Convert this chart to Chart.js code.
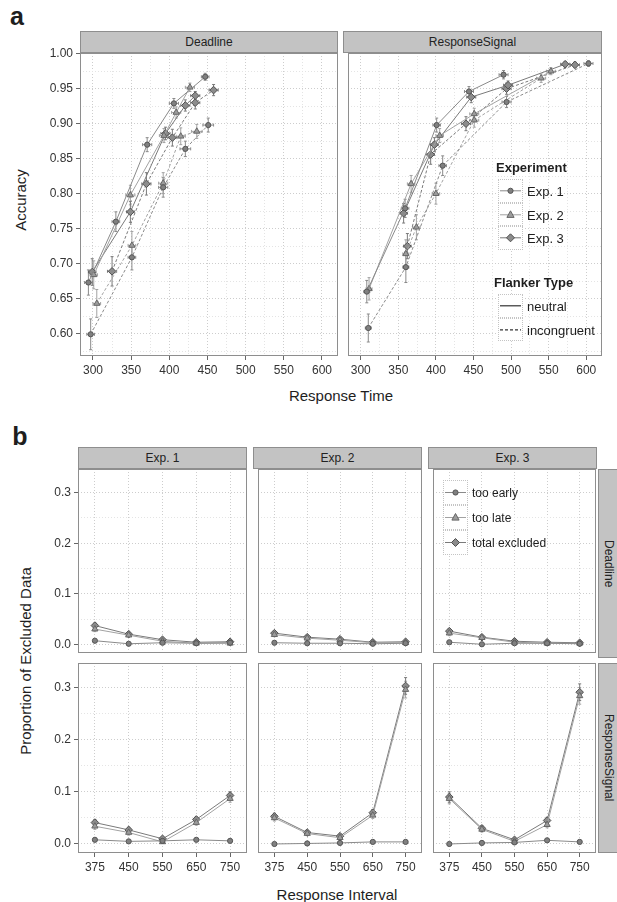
<!DOCTYPE html>
<html>
<head>
<meta charset="utf-8">
<title>Accuracy and excluded data</title>
<script src="https://cdn.jsdelivr.net/npm/chart.js@4.4.1/dist/chart.umd.min.js"></script>
<style>
  body { margin: 0; width: 617px; height: 902px; position: relative; overflow: hidden; background: #fff;
         font-family: "Liberation Sans", Arial, Helvetica, sans-serif; color: #1e1e1e; }
  canvas { position: absolute; }
  .c { position: absolute; transform: translate(-50%, -50%); white-space: nowrap; }
  .l { position: absolute; transform: translateY(-50%); white-space: nowrap; }
  .strip { position: absolute; box-sizing: border-box; background: #c3c3c3; border: 1px solid #8e8e8e;
           font-size: 12px; display: flex; align-items: center; justify-content: center; color: #222; }
  .vstrip { writing-mode: vertical-rl; }
  .panel { font-weight: bold; font-size: 25px; }
  .axt { font-size: 15px; }
  .leg { font-size: 13px; }
  .legb { font-size: 12px; }
  .legt { font-size: 13px; font-weight: bold; }
  .key { position: absolute; box-sizing: border-box; border: 1px dotted #c4c4c4; background: #fff; }
</style>
</head>
<body>
<div class="c panel" style="left:17px;top:16px">a</div>
<div class="strip" style="left:80px;top:31px;width:258px;height:22px">Deadline</div>
<div class="strip" style="left:343px;top:31px;width:259px;height:22px">ResponseSignal</div>
<div class="c axt" style="left:20px;top:200px;transform:translate(-50%,-50%) rotate(-90deg)">Accuracy</div>
<div class="c axt" style="left:341px;top:395px">Response Time</div>

<div class="c panel" style="left:20px;top:436px">b</div>
<div class="strip" style="left:78px;top:447px;width:169px;height:22px">Exp. 1</div>
<div class="strip" style="left:253px;top:447px;width:169px;height:22px">Exp. 2</div>
<div class="strip" style="left:428px;top:447px;width:169px;height:22px">Exp. 3</div>
<div class="strip vstrip" style="left:598px;top:469px;width:22px;height:189px">Deadline</div>
<div class="strip vstrip" style="left:598px;top:663px;width:22px;height:190px">ResponseSignal</div>
<div class="c axt" style="left:25px;top:661px;transform:translate(-50%,-50%) rotate(-90deg)">Proportion of Excluded Data</div>
<div class="c axt" style="left:337px;top:894px">Response Interval</div>

<script>
// ---- panel a: accuracy vs response time (rows = Exp. 1, 2, 3) ----
const expNames = ['Exp. 1', 'Exp. 2', 'Exp. 3'];
const flankerNames = ['neutral', 'incongruent'];

const dlNeuRT  = [[294, 330, 371, 406, 447], [301, 349, 393, 409, 427], [299, 349, 395, 421, 434]];
const dlNeuAcc = [[0.673, 0.760, 0.870, 0.929, 0.967], [0.684, 0.798, 0.883, 0.916, 0.952], [0.688, 0.774, 0.886, 0.926, 0.940]];
const dlIncRT  = [[297, 351, 392, 421, 451], [305, 351, 392, 415, 436], [325, 370, 404, 434, 458]];
const dlIncAcc = [[0.599, 0.709, 0.809, 0.864, 0.898], [0.643, 0.726, 0.815, 0.882, 0.889], [0.689, 0.814, 0.880, 0.930, 0.948]];

const rsNeuRT  = [[308, 359, 401, 444, 490], [311, 367, 405, 451, 553], [357, 398, 447, 496, 572]];
const rsNeuAcc = [[0.660, 0.779, 0.898, 0.946, 0.970], [0.664, 0.814, 0.883, 0.914, 0.975], [0.772, 0.870, 0.938, 0.955, 0.985]];
const rsIncRT  = [[310, 360, 409, 494, 603], [360, 374, 400, 451, 540], [362, 393, 440, 494, 585]];
const rsIncAcc = [[0.608, 0.695, 0.840, 0.931, 0.986], [0.714, 0.752, 0.800, 0.905, 0.965], [0.725, 0.856, 0.900, 0.950, 0.984]];

// error half-widths: neutral rows first, then incongruent rows
const dlAccErr = [[0.018, 0.014, 0.010, 0.007, 0.005], [0.020, 0.014, 0.010, 0.008, 0.006], [0.019, 0.015, 0.009, 0.008, 0.006],
                  [0.022, 0.018, 0.014, 0.011, 0.010], [0.020, 0.020, 0.015, 0.012, 0.010], [0.021, 0.016, 0.012, 0.009, 0.008]];
const dlRtErr  = [[5, 5, 6, 6, 5], [5, 6, 6, 6, 6], [5, 5, 6, 6, 6], [5, 5, 6, 7, 7], [5, 5, 6, 6, 7], [6, 6, 6, 6, 6]];
const rsAccErr = [[0.016, 0.013, 0.010, 0.007, 0.006], [0.016, 0.012, 0.010, 0.008, 0.005], [0.014, 0.010, 0.008, 0.006, 0.004],
                  [0.020, 0.022, 0.014, 0.008, 0.004], [0.020, 0.018, 0.015, 0.010, 0.006], [0.018, 0.014, 0.010, 0.008, 0.004]];
const rsRtErr  = [[4, 5, 5, 6, 6], [4, 5, 5, 6, 6], [5, 5, 6, 6, 6], [4, 4, 5, 6, 6], [4, 5, 5, 6, 6], [5, 5, 6, 6, 6]];

const rtTicks  = [300, 350, 400, 450, 500, 550, 600];
const accTicks = [0.60, 0.65, 0.70, 0.75, 0.80, 0.85, 0.90, 0.95, 1.00];

// ---- panel b: proportion of excluded data (rows = Exp. 1, 2, 3) ----
const exclNames = ['too early', 'too late', 'total excluded'];
const intervals = ['375', '450', '550', '650', '750'];

const dlEarly = [[0.007, 0.001, 0.003, 0.002, 0.003], [0.003, 0.002, 0.002, 0.001, 0.002], [0.004, 0.000, 0.002, 0.002, 0.001]];
const dlLate  = [[0.030, 0.018, 0.006, 0.002, 0.002], [0.019, 0.012, 0.008, 0.003, 0.003], [0.022, 0.013, 0.004, 0.002, 0.002]];
const dlTotal = [[0.037, 0.020, 0.009, 0.004, 0.005], [0.022, 0.014, 0.010, 0.004, 0.005], [0.026, 0.014, 0.006, 0.004, 0.003]];
const rsEarly = [[0.008, 0.005, 0.006, 0.008, 0.006], [0.000, 0.001, 0.002, 0.004, 0.004], [0.000, 0.002, 0.003, 0.007, 0.004]];
const rsLate  = [[0.034, 0.022, 0.004, 0.041, 0.087], [0.050, 0.020, 0.012, 0.055, 0.296], [0.087, 0.028, 0.005, 0.037, 0.284]];
const rsTotal = [[0.041, 0.027, 0.010, 0.047, 0.093], [0.053, 0.022, 0.015, 0.060, 0.303], [0.090, 0.030, 0.008, 0.045, 0.291]];

const dlPropErr = [[0.005, 0.003, 0.002, 0.002, 0.002], [0.004, 0.003, 0.002, 0.002, 0.002], [0.005, 0.003, 0.002, 0.002, 0.002]];
const rsPropErr = [[0.006, 0.005, 0.003, 0.005, 0.007], [0.006, 0.004, 0.003, 0.006, 0.016], [0.010, 0.005, 0.003, 0.006, 0.016]];
const earlyErr  = [0.002, 0.002, 0.002, 0.002, 0.002];

const propTicks = [0, 0.1, 0.2, 0.3];

// ---- styling ----
const lineCol = ['#8a8a8a', '#a2a2a2', '#7a7a7a'];
const ptFill  = ['#808080', '#9c9c9c', '#8c8c8c'];
const ptEdge  = ['#555', '#666', '#505050'];
const shapes  = ['circle', 'triangle', 'rectRot'];
const radii   = [2.6, 3.6, 3.8];

Chart.defaults.font.family = '"Liberation Sans", Arial, sans-serif';
Chart.defaults.font.size = 12;
Chart.defaults.color = '#333';

const facetPlugin = {
  id: 'facetPlugin',
  beforeDatasetsDraw(chart) {
    const { ctx, scales: { x, y } } = chart;
    ctx.save();
    ctx.lineWidth = 1;
    ctx.setLineDash([]);
    chart.data.datasets.forEach((ds, i) => {
      const pts = chart.getDatasetMeta(i).data;
      ctx.strokeStyle = ds.errColor;
      pts.forEach((p, j) => {
        const d = ds.data[j];
        const yv = typeof d === 'object' ? d.y : d;
        ctx.beginPath();
        if (ds.yErr) {
          const y0 = y.getPixelForValue(yv - ds.yErr[j]);
          const y1 = y.getPixelForValue(yv + ds.yErr[j]);
          ctx.moveTo(p.x, y0); ctx.lineTo(p.x, y1);
          ctx.moveTo(p.x - 1.5, y0); ctx.lineTo(p.x + 1.5, y0);
          ctx.moveTo(p.x - 1.5, y1); ctx.lineTo(p.x + 1.5, y1);
        }
        if (ds.xErr) {
          const x0 = x.getPixelForValue(d.x - ds.xErr[j]);
          const x1 = x.getPixelForValue(d.x + ds.xErr[j]);
          ctx.moveTo(x0, p.y); ctx.lineTo(x1, p.y);
          ctx.moveTo(x0, p.y - 1.5); ctx.lineTo(x0, p.y + 1.5);
          ctx.moveTo(x1, p.y - 1.5); ctx.lineTo(x1, p.y + 1.5);
        }
        ctx.stroke();
      });
    });
    ctx.restore();
  },
  afterDraw(chart) {
    const { ctx, chartArea: a } = chart;
    ctx.save();
    ctx.strokeStyle = '#8e8e8e';
    ctx.lineWidth = 1;
    ctx.setLineDash([]);
    ctx.strokeRect(a.left + 0.5, a.top + 0.5, a.right - a.left - 1, a.bottom - a.top - 1);
    ctx.restore();
  }
};

// majors keep labels, minors sit halfway between them
function tickList(major, min, max) {
  const step = major[1] - major[0];
  const out = major.map(v => ({ value: v, lab: true }));
  for (let i = -1; i < major.length; i++) {
    const v = major[0] + (i + 0.5) * step;
    if (v > min && v < max) out.push({ value: v, lab: false });
  }
  return out.sort((p, q) => p.value - q.value);
}

function linAxis(major, min, max, digits, show, size) {
  return {
    type: 'linear', min, max,
    afterBuildTicks: s => { s.ticks = tickList(major, min, max); },
    afterFit: s => {
      if (s.isHorizontal()) { s.height = size; s.paddingLeft = 0; s.paddingRight = 0; }
      else { s.width = size; s.paddingTop = 0; s.paddingBottom = 0; }
    },
    ticks: {
      display: show, autoSkip: false, maxRotation: 0, padding: 3, color: '#333',
      callback: (v, i, ts) => ts[i].lab ? (digits === 0 ? String(v) : v.toFixed(digits)) : ''
    },
    grid: {
      drawTicks: show, tickLength: 4,
      color: c => c.tick && c.tick.lab ? '#cdcdcd' : '#e4e4e4',
      tickColor: c => c.tick && c.tick.lab ? '#666' : 'rgba(0,0,0,0)'
    },
    border: { display: false, dash: [1, 2] }
  };
}

function catAxis(show, size) {
  return {
    type: 'category', offset: true,
    afterFit: s => { s.height = size; s.paddingLeft = 0; s.paddingRight = 0; },
    ticks: { display: show, autoSkip: false, maxRotation: 0, padding: 3, color: '#333' },
    grid: { offset: false, drawTicks: show, tickLength: 4, color: '#cdcdcd', tickColor: '#666' },
    border: { display: false, dash: [1, 2] }
  };
}

function facet(rect, m, data, xScale, yScale) {
  const cv = document.createElement('canvas');
  const w = rect[2] - rect[0] + m.l + m.r;
  const h = rect[3] - rect[1] + m.t + m.b;
  cv.width = w; cv.height = h;
  cv.style.width = w + 'px'; cv.style.height = h + 'px';
  cv.style.left = (rect[0] - m.l) + 'px';
  cv.style.top = (rect[1] - m.t) + 'px';
  document.body.appendChild(cv);
  return new Chart(cv.getContext('2d'), {
    type: 'line',
    data,
    options: {
      responsive: false, animation: false, devicePixelRatio: 1,
      layout: { padding: { top: m.t, right: m.r, left: 0, bottom: 0 } },
      plugins: { legend: { display: false }, tooltip: { enabled: false } },
      scales: { x: xScale, y: yScale }
    },
    plugins: [facetPlugin]
  });
}

// ---- panel a facets ----
function accSets(neuRT, neuAcc, incRT, incAcc, accErr, rtErr) {
  const sets = [];
  [[neuRT, neuAcc, []], [incRT, incAcc, [3, 2]]].forEach(([rt, acc, dash], f) => {
    rt.forEach((row, e) => {
      sets.push({
        label: expNames[e] + ' ' + flankerNames[f],
        data: row.map((x, i) => ({ x, y: acc[e][i] })),
        borderColor: lineCol[e], errColor: lineCol[e], borderWidth: 1, borderDash: dash,
        pointStyle: shapes[e], pointRadius: radii[e], pointBorderWidth: 1,
        pointBackgroundColor: ptFill[e], pointBorderColor: ptEdge[e],
        yErr: accErr[f * 3 + e], xErr: rtErr[f * 3 + e]
      });
    });
  });
  return { datasets: sets };
}

const rtMin = 283, rtMax = 621, accMin = 0.568, accMax = 1.001;
facet([80, 53, 338, 356], { l: 52, t: 10, r: 12, b: 30 },
  accSets(dlNeuRT, dlNeuAcc, dlIncRT, dlIncAcc, dlAccErr, dlRtErr),
  linAxis(rtTicks, rtMin, rtMax, 0, true, 30),
  linAxis(accTicks, accMin, accMax, 2, true, 52));
facet([343, 53, 602, 356], { l: 0, t: 10, r: 12, b: 30 },
  accSets(rsNeuRT, rsNeuAcc, rsIncRT, rsIncAcc, rsAccErr, rsRtErr),
  linAxis(rtTicks, rtMin, rtMax, 0, true, 30),
  linAxis(accTicks, accMin, accMax, 2, false, 0));

// ---- panel b facets ----
function propSets(e, early, late, total, err) {
  return {
    labels: intervals,
    datasets: [early[e], late[e], total[e]].map((vals, k) => ({
      label: exclNames[k],
      data: vals,
      borderColor: lineCol[k], errColor: lineCol[k], borderWidth: 1,
      pointStyle: shapes[k], pointRadius: radii[k], pointBorderWidth: 1,
      pointBackgroundColor: ptFill[k], pointBorderColor: ptEdge[k],
      yErr: k === 0 ? earlyErr : err[e]
    }))
  };
}

const colX = [[78, 247], [253, 422], [428, 596]];
const rowY = [[469, 658], [663, 853]];
const propMin = -0.0173, propMax = 0.347;
colX.forEach(([x0, x1], e) => {
  rowY.forEach(([y0, y1], r) => {
    const left = e === 0, bottom = r === 1;
    const m = { l: left ? 52 : 0, t: 10, r: 12, b: bottom ? 30 : 0 };
    const data = r === 0 ? propSets(e, dlEarly, dlLate, dlTotal, dlPropErr)
                         : propSets(e, rsEarly, rsLate, rsTotal, rsPropErr);
    facet([x0, y0, x1, y1], m, data,
      catAxis(bottom, m.b),
      linAxis(propTicks, propMin, propMax, 1, left, m.l));
  });
});

// ---- legends (html text, svg keys) ----
function markerSvg(k, cx, cy) {
  const f = ptFill[k], s = ptEdge[k];
  if (shapes[k] === 'circle') return `<circle cx="${cx}" cy="${cy}" r="2.6" fill="${f}" stroke="${s}"/>`;
  if (shapes[k] === 'triangle') return `<polygon points="${cx},${cy - 4} ${cx + 3.6},${cy + 2.6} ${cx - 3.6},${cy + 2.6}" fill="${f}" stroke="${s}"/>`;
  return `<polygon points="${cx},${cy - 4} ${cx + 4},${cy} ${cx},${cy + 4} ${cx - 4},${cy}" fill="${f}" stroke="${s}"/>`;
}
function key(x, y, w, h, inner) {
  const d = document.createElement('div');
  d.className = 'key';
  Object.assign(d.style, { left: x + 'px', top: y + 'px', width: w + 'px', height: h + 'px' });
  d.innerHTML = `<svg width="${w - 2}" height="${h - 2}" style="display:block">${inner}</svg>`;
  document.body.appendChild(d);
}
function text(cls, str, x, y) {
  const d = document.createElement('div');
  d.className = cls;
  d.textContent = str;
  Object.assign(d.style, { left: x + 'px', top: y + 'px' });
  document.body.appendChild(d);
}

text('l legt', 'Experiment', 496, 167);
expNames.forEach((n, e) => {
  const top = 179 + e * 23.5;
  key(498, top, 25, 23.5, `<line x1="1" y1="10.8" x2="22" y2="10.8" stroke="${lineCol[e]}"/>` + markerSvg(e, 11.5, 10.8));
  text('l leg', n, 527, top + 12);
});
text('l legt', 'Flanker Type', 494, 282);
flankerNames.forEach((n, f) => {
  const top = 294 + f * 23.5;
  key(498, top, 25, 23.5, `<line x1="1" y1="10.8" x2="22" y2="10.8" stroke="#333" stroke-width="1.2"${f ? ' stroke-dasharray="3,2"' : ''}/>`);
  text('l leg', n, 527, top + 12);
});

exclNames.forEach((n, k) => {
  const top = 480 + k * 25;
  key(443, top, 25, 25, `<line x1="1" y1="11.5" x2="22" y2="11.5" stroke="${lineCol[k]}"/>` + markerSvg(k, 11.5, 11.5));
  text('l legb', n, 472, top + 12.5);
});
</script>
</body>
</html>
